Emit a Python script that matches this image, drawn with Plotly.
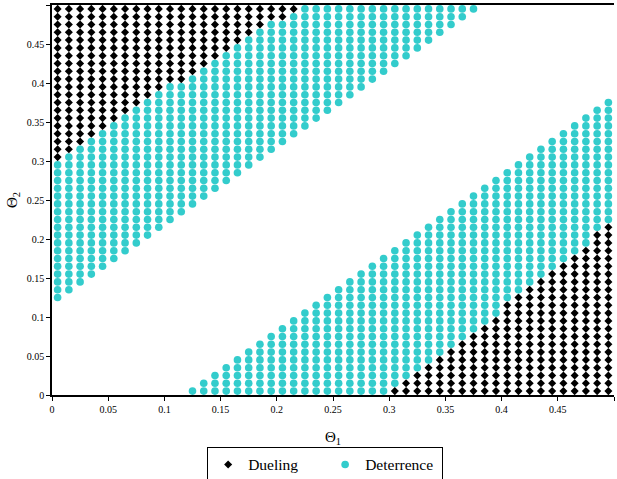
import plotly.graph_objects as go

# Grid of evaluated parameter values (theta1 columns, theta2 rows step 0.01)
theta1 = [0.005, 0.015, 0.025, 0.035, 0.045, 0.055, 0.065, 0.075, 0.085, 0.095,
          0.105, 0.115, 0.125, 0.135, 0.145, 0.155, 0.165, 0.175, 0.185, 0.195,
          0.205, 0.215, 0.225, 0.235, 0.245, 0.255, 0.265, 0.275, 0.285, 0.295,
          0.305, 0.315, 0.325, 0.335, 0.345, 0.355, 0.365, 0.375, 0.385, 0.395,
          0.405, 0.415, 0.425, 0.435, 0.445, 0.455, 0.465, 0.475, 0.485, 0.495]
theta2_rows = [0.005, 0.015, 0.025, 0.035, 0.045, 0.055, 0.065, 0.075, 0.085, 0.095,
               0.105, 0.115, 0.125, 0.135, 0.145, 0.155, 0.165, 0.175, 0.185, 0.195,
               0.205, 0.215, 0.225, 0.235, 0.245, 0.255, 0.265, 0.275, 0.285, 0.295,
               0.305, 0.315, 0.325, 0.335, 0.345, 0.355, 0.365, 0.375, 0.385, 0.395,
               0.405, 0.415, 0.425, 0.435, 0.445, 0.455, 0.465, 0.475, 0.485, 0.495]

N = None
# Upper band: lowest theta2 with Deterrence (per column)
upper_det_min = [0.125, 0.135, 0.145, 0.155, 0.165, 0.175, 0.185, 0.195, 0.205, 0.215,
                 0.225, 0.235, 0.245, 0.255, 0.265, 0.275, 0.285, 0.295, 0.305, 0.315,
                 0.325, 0.335, 0.345, 0.355, 0.365, 0.375, 0.385, 0.395, 0.405, 0.415,
                 0.425, 0.435, 0.445, 0.455, 0.465, 0.475, 0.485, 0.495, N, N,
                 N, N, N, N, N, N, N, N, N, N]
# Upper band: lowest theta2 with Dueling (per column)
upper_duel_min = [0.305, 0.315, 0.325, 0.335, 0.345, 0.355, 0.365, 0.375, 0.385, 0.395,
                  0.405, 0.405, 0.415, 0.425, 0.435, 0.445, 0.455, 0.465, 0.475, 0.485,
                  0.485, 0.495, N, N, N, N, N, N, N, N,
                  N, N, N, N, N, N, N, N, N, N,
                  N, N, N, N, N, N, N, N, N, N]
# Lower band: highest theta2 with Deterrence (per column)
lower_det_max = [N, N, N, N, N, N, N, N, N, N,
                 N, N, 0.005, 0.015, 0.025, 0.035, 0.045, 0.055, 0.065, 0.075,
                 0.085, 0.095, 0.105, 0.115, 0.125, 0.135, 0.145, 0.155, 0.165, 0.175,
                 0.185, 0.195, 0.205, 0.215, 0.225, 0.235, 0.245, 0.255, 0.265, 0.275,
                 0.285, 0.295, 0.305, 0.315, 0.325, 0.335, 0.345, 0.355, 0.365, 0.375]
# Lower band: highest theta2 with Dueling (per column)
lower_duel_max = [N, N, N, N, N, N, N, N, N, N,
                  N, N, N, N, N, N, N, N, N, N,
                  N, N, N, N, N, N, N, N, N, N,
                  0.005, 0.015, 0.025, 0.035, 0.045, 0.055, 0.065, 0.075, 0.085, 0.095,
                  0.115, 0.125, 0.135, 0.145, 0.155, 0.165, 0.175, 0.185, 0.205, 0.215]

x_ticks = [0, 0.05, 0.1, 0.15, 0.2, 0.25, 0.3, 0.35, 0.4, 0.45, 0.5]
y_ticks = [0, 0.05, 0.1, 0.15, 0.2, 0.25, 0.3, 0.35, 0.4, 0.45, 0.5]
tick_labels = ["0", "0.05", "0.1", "0.15", "0.2", "0.25", "0.3", "0.35", "0.4", "0.45", "0.5"]

duel_x, duel_y, det_x, det_y = [], [], [], []
eps = 1e-9
for i, x in enumerate(theta1):
    for y in theta2_rows:
        um_det = upper_det_min[i]
        um_duel = upper_duel_min[i]
        lm_det = lower_det_max[i]
        lm_duel = lower_duel_max[i]
        if um_duel is not None and y >= um_duel - eps:
            duel_x.append(x); duel_y.append(y)
        elif um_det is not None and y >= um_det - eps:
            det_x.append(x); det_y.append(y)
        elif lm_duel is not None and y <= lm_duel + eps:
            duel_x.append(x); duel_y.append(y)
        elif lm_det is not None and y <= lm_det + eps:
            det_x.append(x); det_y.append(y)

FONT = "Times New Roman"

fig = go.Figure()
fig.add_trace(go.Scatter(x=duel_x, y=duel_y, mode="markers", name="Dueling",
                         marker=dict(symbol="diamond", size=6.2, color="#000000"),
                         cliponaxis=False))
fig.add_trace(go.Scatter(x=det_x, y=det_y, mode="markers", name="Deterrence",
                         marker=dict(symbol="circle", size=7.6, color="#33CCCC"),
                         cliponaxis=False))

fig.update_layout(
    width=617, height=479,
    margin=dict(l=52, r=3, t=5, b=84, autoexpand=False),
    paper_bgcolor="white", plot_bgcolor="white",
    font=dict(family=FONT, color="#000000", size=10),
    showlegend=True,
    legend=dict(orientation="h", x=0.486, y=-0.133, xanchor="center", yanchor="top",
                bordercolor="#000000", borderwidth=1, font=dict(size=15.5, family=FONT),
                entrywidth=72, itemwidth=30, tracegroupgap=0),
    xaxis=dict(range=[0, 0.5], tickvals=x_ticks, ticktext=tick_labels, automargin=False,
               showgrid=False, zeroline=False, showline=True, linecolor="#000000",
               linewidth=1.5, mirror=True, ticks="outside", ticklen=4, tickcolor="#000000",
               tickfont=dict(size=10, family=FONT),
               title=dict(text="Θ<sub>1</sub>", font=dict(size=15, family=FONT), standoff=18)),
    yaxis=dict(range=[0, 0.5], tickvals=y_ticks, ticktext=tick_labels, automargin=False,
               showgrid=False, zeroline=False, showline=True, linecolor="#000000",
               linewidth=1.5, ticks="outside", ticklen=4, tickcolor="#000000",
               tickfont=dict(size=10, family=FONT),
               title=dict(text="Θ<sub>2</sub>", font=dict(size=15, family=FONT), standoff=6)),
)

fig.write_html("out.html", config={"displayModeBar": False},
               post_script="document.body.style.margin='0';document.body.style.overflow='hidden';")
